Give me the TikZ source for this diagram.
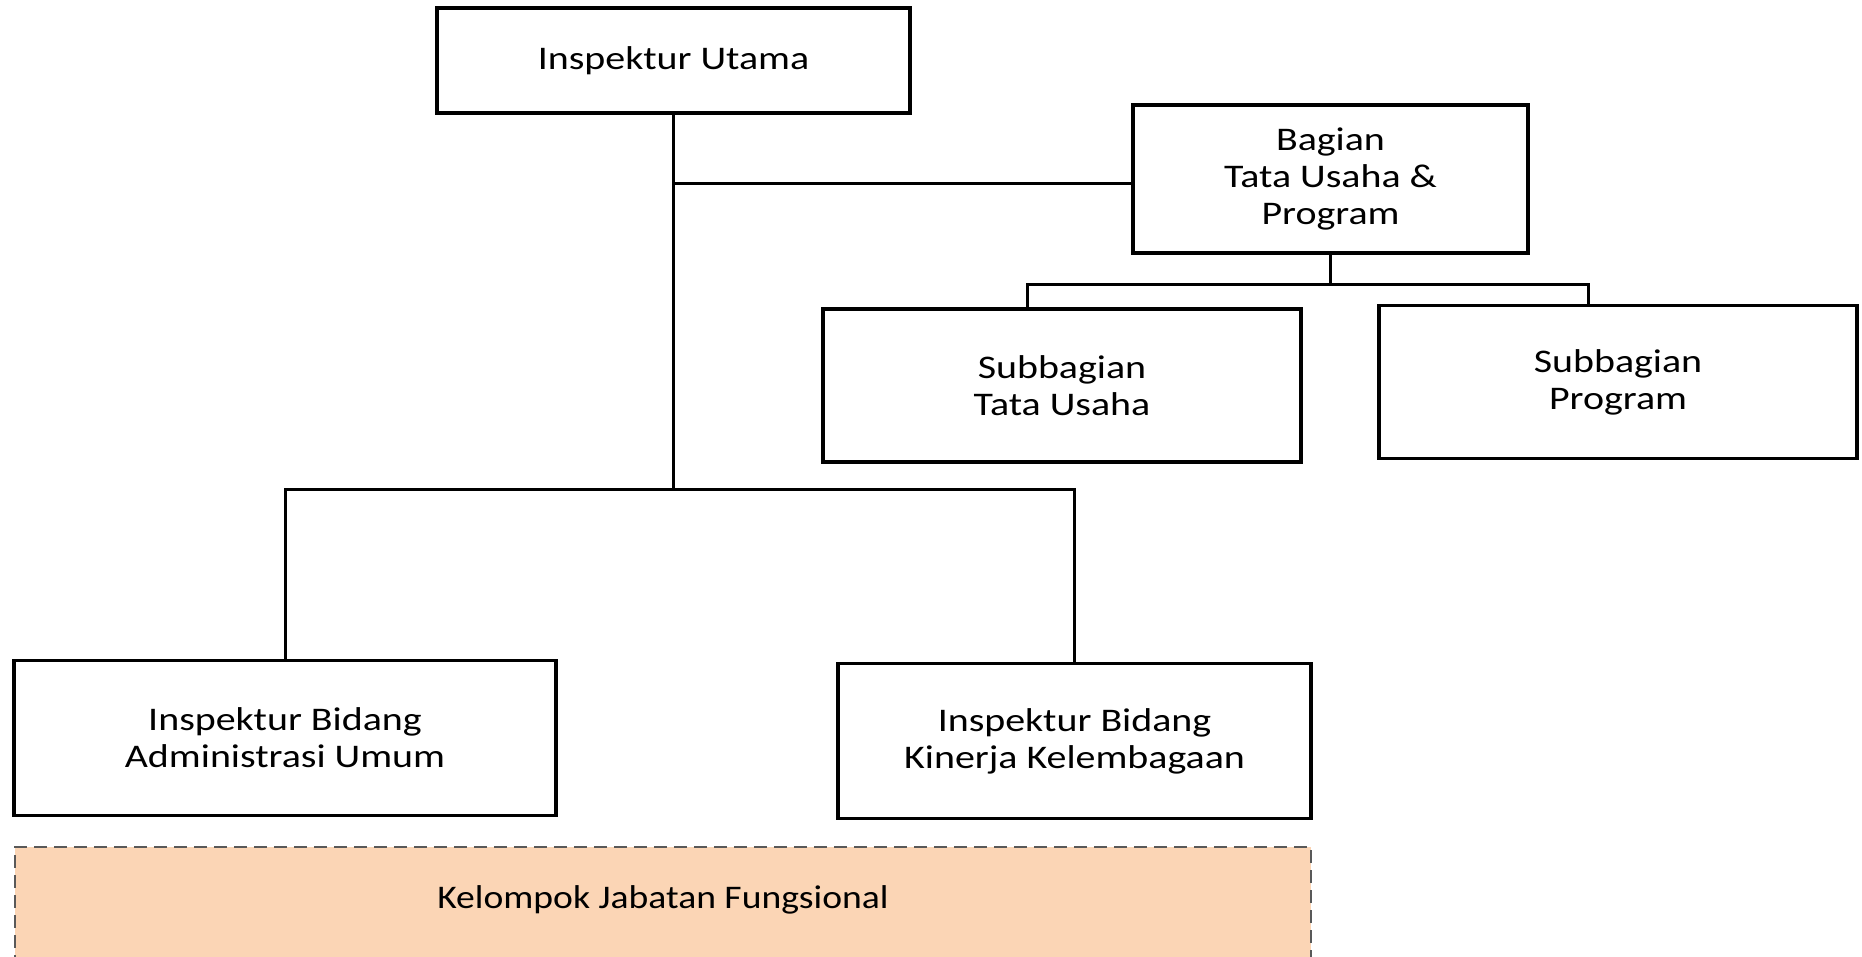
\documentclass[tikz,border=0pt]{standalone}
\usepackage{fontspec}
\setmainfont{Carlito}[FakeStretch=1.21]
\newfontfamily\kfont{Carlito}[FakeStretch=1.14]
\begin{document}
\begin{tikzpicture}[x=1pt,y=-1pt,
  box/.style={draw=black,line width=3.5pt,fill=white,rectangle,inner sep=0pt,align=center,
    font=\fontsize{33}{37}\selectfont},
  conn/.style={draw=black,line width=3pt},
  grp/.style={draw=black!65,dashed,dash pattern=on 13pt off 7pt,line width=2pt,fill=peach,rectangle,inner sep=0pt}]
\definecolor{peach}{HTML}{FBD5B5}
\useasboundingbox (0,0) rectangle (1862,956);
% dashed group box (extends past bottom)
\node[grp,minimum width=1296pt,minimum height=140pt] (grp) at (663,917) {};
\node[font=\kfont\fontsize{33}{37}\selectfont] (grpt) at (663,900) {Kelompok Jabatan Fungsional};
% boxes
\node[box,minimum width=473pt,minimum height=105pt] (iu) at (673.5,60.5) {Inspektur Utama};
\node[box,minimum width=395pt,minimum height=148pt] (bag) at (1330.5,179) {Bagian\\Tata Usaha \&\\Program};
\node[box,minimum width=478pt,minimum height=153pt] (tu) at (1062,385.5) {Subbagian\\Tata Usaha};
\node[box,minimum width=478pt,minimum height=153pt] (pr) at (1618,382) {Subbagian\\Program};
\node[box,minimum width=542pt,minimum height=155pt] (adm) at (285,738) {Inspektur Bidang\\Administrasi Umum};
\node[box,minimum width=473pt,minimum height=155pt] (kin) at (1074.5,741) {Inspektur Bidang\\Kinerja Kelembagaan};
% connector coordinates
\coordinate (hub) at (673.5,489);
\coordinate (j1) at (673.5,183);
\coordinate (hub2) at (1330.5,284);
\coordinate (tuc) at (1027,284);
\coordinate (prc) at (1588,284);
% connectors
\draw[conn] (iu.south) -- (hub);
\draw[conn] (j1) -- (j1 -| bag.west);
\draw[conn] (adm.north) |- (hub) -| (kin.north);
\draw[conn] (bag.south) -- (hub2);
\draw[conn] (tuc |- tu.north) -- (tuc) -- (prc) -- (prc |- pr.north);
\end{tikzpicture}
\end{document}
